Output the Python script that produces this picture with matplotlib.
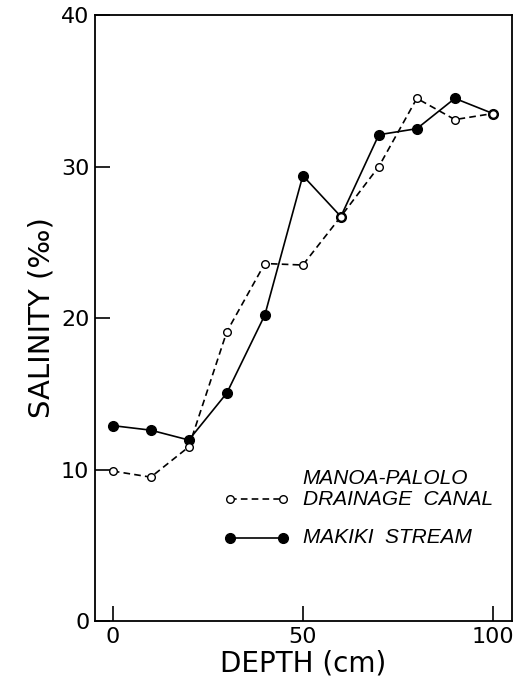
import matplotlib
matplotlib.use('Agg')
import matplotlib.pyplot as plt

depth = [0, 10, 20, 30, 40, 50, 60, 70, 80, 90, 100]
manoa_palolo = [9.9, 9.5, 11.5, 19.1, 23.6, 23.5, 26.7, 30.0, 34.5, 33.1, 33.5]
makiki = [12.9, 12.6, 11.95, 15.05, 20.2, 29.4, 26.7, 32.1, 32.5, 34.5, 33.5]

plt.rcParams['font.family'] = ['DejaVu Sans']

fig = plt.figure(figsize=(5.16, 6.84), dpi=100)
ax = fig.add_axes([0.184, 0.092, 0.808, 0.886])

ax.plot(depth, manoa_palolo, 'k--', lw=1.2, dashes=(4, 2.5), marker='o',
        ms=5.5, mfc='white', mec='black', mew=1.0, zorder=3)
ax.plot(depth, makiki, 'k-', lw=1.2, marker='o', ms=7, mfc='black',
        mec='black', zorder=2)

# legend drawn by hand inside the axes
ax.plot([30.8, 44.7], [8.05, 8.05], 'k--', lw=1.2, dashes=(4, 2.5), marker='o',
        ms=5.5, mfc='white', mec='black', mew=1.0)
ax.plot([30.8, 44.7], [5.5, 5.5], 'k-', lw=1.2, marker='o', ms=7, mfc='black')
leg_font = dict(family='Liberation Sans', style='italic', fontsize=15, va='baseline')
ax.text(50.0, 9.04, 'MANOA-PALOLO', **leg_font)
ax.text(50.0, 7.66, 'DRAINAGE  CANAL', **leg_font)
ax.text(50.0, 5.15, 'MAKIKI  STREAM', **leg_font)

ax.set_xlim(-4.7, 105)
ax.set_ylim(0, 40)
ax.set_xticks([0, 50, 100])
ax.set_yticks([0, 10, 20, 30, 40])
ax.tick_params(direction='in', length=11, width=1.2, labelsize=16, pad=4)
for s in ax.spines.values():
    s.set_linewidth(1.3)

ax.set_xlabel('DEPTH (cm)', fontsize=20, labelpad=2)
ax.set_ylabel('SALINITY (‰)', fontsize=21, labelpad=4)

plt.savefig('out.png', dpi=100)
